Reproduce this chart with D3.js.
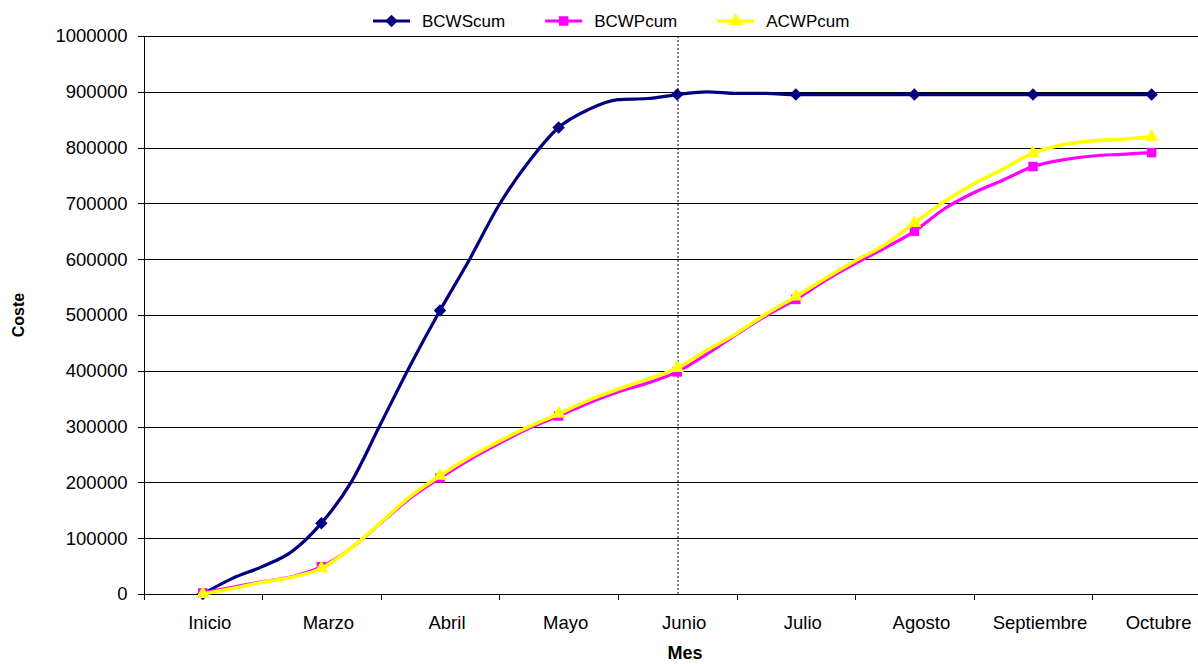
<!DOCTYPE html>
<html>
<head>
<meta charset="utf-8">
<script src="https://cdn.jsdelivr.net/npm/d3@7"></script>
<style>
  body { margin: 0; background: #fff; }
  svg { display: block; font-family: 'Liberation Sans', Arial, sans-serif; }
</style>
</head>
<body>
<svg width="1198" height="664"></svg>
<script>
// ---- Datos
const meses = ['Inicio', 'Marzo', 'Abril', 'Mayo', 'Junio', 'Julio', 'Agosto', 'Septiembre', 'Octubre'];
// posición de cada punto, en meses desde "Inicio" (puntos semanales aprox.)
const semanas = [0, 0.25, 0.5, 0.75, 1, 1.25, 1.5, 1.75, 2, 2.25, 2.5, 2.75, 3, 3.25, 3.5, 3.75, 4,
    4.25, 4.5, 4.75, 5, 5.25, 5.5, 5.75, 6, 6.25, 6.5, 6.75, 7, 7.25, 7.5, 7.75, 8];
const bcwsCum = [0, 28000, 49000, 76000, 127000, 200000, 305000, 410000, 508000, 600000, 698000, 775000, 836000,
    868000, 886000, 888000, 895000, 900000, 897000, 897000, 895000, 895000, 895000, 895000, 895000,
    895000, 895000, 895000, 895000, 895000, 895000, 895000, 895000];
const bcwpCum = [2000, 12000, 22000, 31000, 49000, 82000, 127000, 172000, 208000, 241000, 270000, 297000, 319000,
    342000, 362000, 378000, 398000, 430000, 465000, 499000, 528000, 562000, 592000, 620000, 650000,
    690000, 719000, 742000, 766000, 778000, 785000, 788000, 791000];
const acwpCum = [0, 10000, 21000, 30000, 46000, 82000, 128000, 175000, 212000, 245000, 274000, 300000, 323000,
    347000, 367000, 385000, 405000, 437000, 467000, 502000, 533000, 566000, 597000, 626000, 665000,
    703000, 735000, 762000, 790000, 805000, 812000, 815000, 819000];
const yTicks = [0, 100000, 200000, 300000, 400000, 500000, 600000, 700000, 800000, 900000, 1000000];
const lineaVertical = 4; // Junio

const series = [
    { nombre: 'BCWScum', valores: bcwsCum, color: '#000080', simbolo: d3.symbolSquare, tam: 78, giro: 45, ancho: 3.2 },
    { nombre: 'BCWPcum', valores: bcwpCum, color: '#ff00ff', simbolo: d3.symbolSquare, tam: 90, giro: 0, ancho: 3.2 },
    { nombre: 'ACWPcum', valores: acwpCum, color: '#ffff00', simbolo: d3.symbolTriangle, tam: 82, giro: 0, ancho: 3.6 }
];

// ---- Dimensiones
const svg = d3.select('svg');
const margens = { left: 143.5, top: 36, bottom: 70 };
const anchoCat = 118.6;
const innerHeight = 664 - margens.top - margens.bottom;
const innerWidth = anchoCat * meses.length;
const anchoVisible = 1198 - margens.left; // el área de trazado se corta en el borde derecho

const g = svg.append('g').attr('transform', `translate(${margens.left}, ${margens.top})`);

// ---- Escalas
const mapX = d3.scaleLinear().domain([-0.5, meses.length - 0.5]).range([0, innerWidth]);
const mapY = d3.scaleLinear().domain([0, 1000000]).range([innerHeight, 0]);

// ---- Rejilla
g.append('g')
    .selectAll('line')
    .data(yTicks.filter(d => d > 0))
    .join('line')
    .attr('x1', 0).attr('x2', anchoVisible)
    .attr('y1', d => Math.round(mapY(d)) + 0.5).attr('y2', d => Math.round(mapY(d)) + 0.5)
    .attr('stroke', '#000').attr('stroke-width', 1)
    .attr('shape-rendering', 'crispEdges');

// ---- Eje Y (marcas con d3.axisLeft, etiquetas aparte)
const yAxis = d3.axisLeft(mapY).tickValues(yTicks).tickSize(6).tickFormat('');
g.append('g')
    .call(yAxis)
    .call(s => s.selectAll('text').remove())
    .call(s => s.selectAll('line,path').attr('stroke', '#000').attr('shape-rendering', 'crispEdges'));

g.append('g')
    .selectAll('text')
    .data(yTicks)
    .join('text')
    .attr('x', -16)
    .attr('y', d => mapY(d))
    .attr('dy', '0.35em')
    .attr('text-anchor', 'end')
    .attr('font-size', 18.5)
    .text(d => d);

// ---- Eje X (marcas entre categorías, etiquetas centradas)
const xAxis = d3.axisBottom(mapX)
    .tickValues(d3.range(-0.5, meses.length - 1, 1))
    .tickSize(6)
    .tickSizeOuter(0);
g.append('g')
    .attr('transform', `translate(0, ${innerHeight})`)
    .call(xAxis)
    .call(s => s.selectAll('text').remove()) // sin texto en las marcas
    .call(s => s.select('.domain').attr('d', `M0,0H${anchoVisible}`))
    .call(s => s.selectAll('line,path').attr('stroke', '#000').attr('shape-rendering', 'crispEdges'));

g.append('g')
    .selectAll('text')
    .data(meses)
    .join('text')
    .attr('x', (d, i) => mapX(i) + 7)
    .attr('y', innerHeight + 22)
    .attr('dy', '0.71em')
    .attr('text-anchor', 'middle')
    .attr('font-size', 18.5)
    .text(d => d);

// ---- Línea vertical punteada (Junio)
g.append('line')
    .attr('x1', Math.round(mapX(lineaVertical)) + 0.5).attr('x2', Math.round(mapX(lineaVertical)) + 0.5)
    .attr('y1', 0).attr('y2', innerHeight)
    .attr('stroke', '#000').attr('stroke-width', 1)
    .attr('stroke-dasharray', '2,2');

// ---- Títulos de ejes
svg.append('text')
    .attr('x', 685).attr('y', 659)
    .attr('text-anchor', 'middle')
    .attr('font-size', 18).attr('font-weight', 'bold')
    .text('Mes');

svg.append('text')
    .attr('transform', 'translate(24, 315) rotate(-90)')
    .attr('text-anchor', 'middle')
    .attr('font-size', 16).attr('font-weight', 'bold')
    .text('Coste');

// ---- Series
const linea = d3.line()
    .x((d, i) => mapX(semanas[i]))
    .y(d => mapY(d))
    .curve(d3.curveMonotoneX);

series.forEach(s => {
    const gs = g.append('g');
    gs.append('path')
        .datum(s.valores)
        .attr('d', linea)
        .attr('fill', 'none')
        .attr('stroke', s.color)
        .attr('stroke-width', s.ancho)
        .attr('stroke-linejoin', 'round');

    // marcadores sólo en los meses
    const marcas = s.valores.map((v, i) => ({ m: semanas[i], v })).filter(d => Number.isInteger(d.m));
    gs.selectAll('path.marca')
        .data(marcas)
        .join('path')
        .attr('class', 'marca')
        .attr('transform', d => `translate(${mapX(d.m)}, ${mapY(d.v)}) rotate(${s.giro})`)
        .attr('d', d3.symbol(s.simbolo, s.tam))
        .attr('fill', s.color);
});

// ---- Leyenda
const leyenda = svg.append('g').attr('transform', 'translate(373, 21)');
let xLey = 0;
series.forEach(s => {
    const item = leyenda.append('g').attr('transform', `translate(${xLey}, 0)`);
    item.append('line')
        .attr('x1', 0).attr('x2', 37)
        .attr('stroke', s.color).attr('stroke-width', s.ancho);
    item.append('path')
        .attr('transform', `translate(18.5, 0) rotate(${s.giro})`)
        .attr('d', d3.symbol(s.simbolo, s.tam))
        .attr('fill', s.color);
    const t = item.append('text')
        .attr('x', 49).attr('y', 6)
        .attr('font-size', 17)
        .text(s.nombre);
    xLey += 49 + t.node().getComputedTextLength() + 40;
});
</script>
</body>
</html>
